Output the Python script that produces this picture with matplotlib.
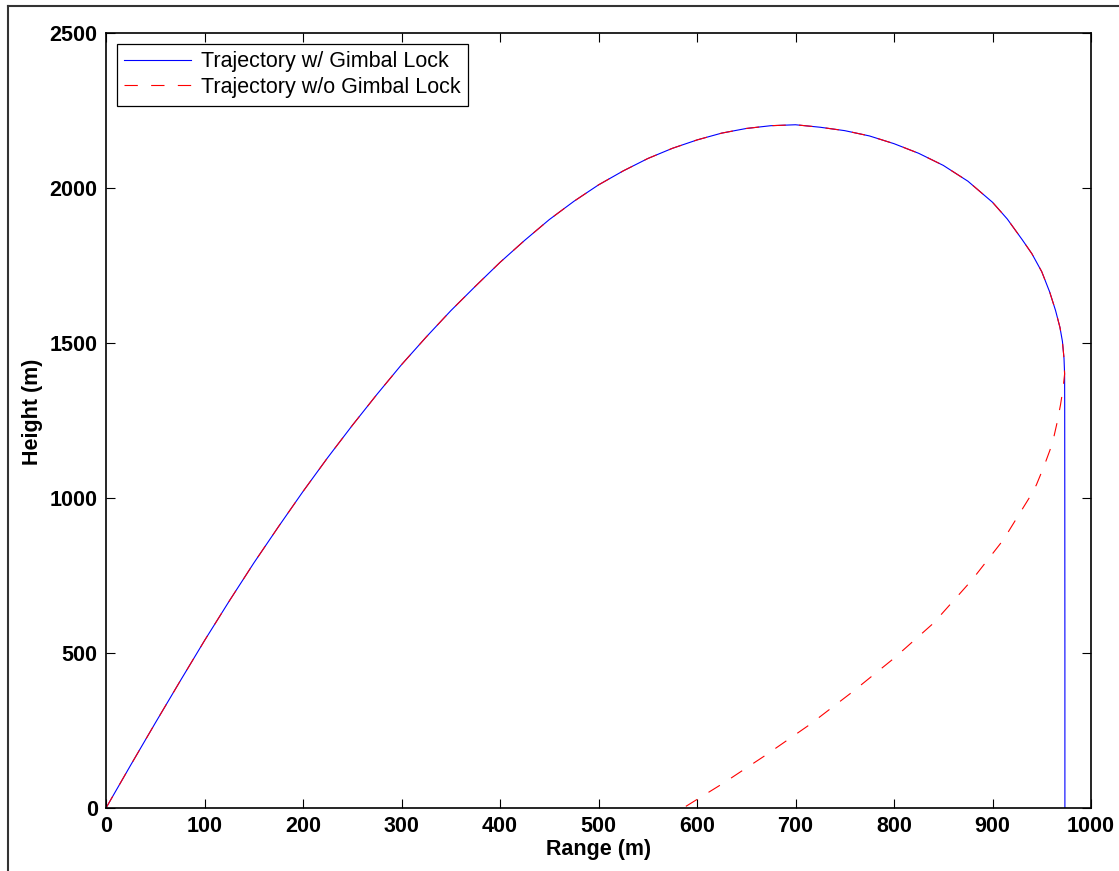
import matplotlib
matplotlib.use("Agg")
import matplotlib.pyplot as plt
from matplotlib.lines import Line2D

# Shared ascending / arc portion (range m, height m)
common_x = [0, 25, 50, 75, 100, 125, 150, 175, 200, 225, 250, 275, 300, 325, 350,
            375, 400, 425, 450, 475, 500, 525, 550, 575, 600, 625, 650, 675, 700,
            725, 750, 775, 800, 825, 850, 875, 900, 915, 930, 940, 950, 958, 964,
            968.5, 971, 972.6, 973.2]
common_y = [0, 138, 274, 408, 540, 667, 790, 907, 1021, 1130, 1234, 1334, 1430, 1519, 1604,
            1683, 1760, 1831, 1898, 1957, 2010, 2055, 2095, 2128, 2155, 2177, 2192, 2201, 2204,
            2196, 2185, 2168, 2143, 2112, 2073, 2022, 1954, 1900, 1834, 1788, 1730, 1665, 1605,
            1550, 1505, 1450, 1400]

# With gimbal lock: drops vertically
lock_tail_x = [973.3, 973.4, 973.5, 973.5]
lock_tail_y = [1300, 1000, 500, 0]

# Without gimbal lock: curves back
free_tail_x = [971.5, 969, 965.5, 962.5, 958.4, 952, 944.5, 938, 911, 879, 840, 800,
               758, 714, 670, 626.7, 586]
free_tail_y = [1350, 1300, 1242, 1200, 1155, 1100, 1042, 1004, 865, 735, 596, 483,
               375, 268, 171, 80, 0]

x_ticks = [0, 100, 200, 300, 400, 500, 600, 700, 800, 900, 1000]
y_ticks = [0, 500, 1000, 1500, 2000, 2500]

plt.rcParams['font.family'] = ['Liberation Sans', 'DejaVu Sans']

fig = plt.figure(figsize=(11.19, 8.71), dpi=100)
ax = fig.add_axes([106/1119, 1-808/871, (1091-106)/1119, (808-33)/871])

ax.plot(common_x + lock_tail_x, common_y + lock_tail_y, color='#0000ff', lw=0.8,
        label='Trajectory w/ Gimbal Lock')
ax.plot(common_x + free_tail_x, common_y + free_tail_y, color='#ff0000', lw=0.8,
        linestyle=(0, (12, 12)), label='Trajectory w/o Gimbal Lock')

ax.set_xlim(0, 1000)
ax.set_ylim(0, 2500)
ax.set_xticks(x_ticks)
ax.set_yticks(y_ticks)
ax.tick_params(direction='in', length=6.5, width=0.8, top=True, right=True,
               labelsize=15.5, pad=6)
for lab in ax.get_xticklabels() + ax.get_yticklabels():
    lab.set_fontweight('bold')
for s in ax.spines.values():
    s.set_linewidth(1.2)

ax.set_xlabel('Range (m)', fontsize=15.5, fontweight='bold', labelpad=1)
ax.set_ylabel('Height (m)', fontsize=15.5, fontweight='bold')
ax.yaxis.set_label_coords(-0.064, 0.511)

leg = ax.legend(loc='upper left', fontsize=15.5, fancybox=False, framealpha=1,
                edgecolor='black', labelspacing=0.22, handlelength=3.1,
                handletextpad=0.45, borderpad=0.35, borderaxespad=0.5)
leg.get_frame().set_linewidth(0.9)

# outer frame lines (top and left)
fig.add_artist(Line2D([8/1119, 1], [1-6/871, 1-6/871], transform=fig.transFigure,
                      color='#333333', lw=1.5))
fig.add_artist(Line2D([8/1119, 8/1119], [0, 1-6/871], transform=fig.transFigure,
                      color='#333333', lw=1.5))

fig.savefig('out.png', dpi=100)
